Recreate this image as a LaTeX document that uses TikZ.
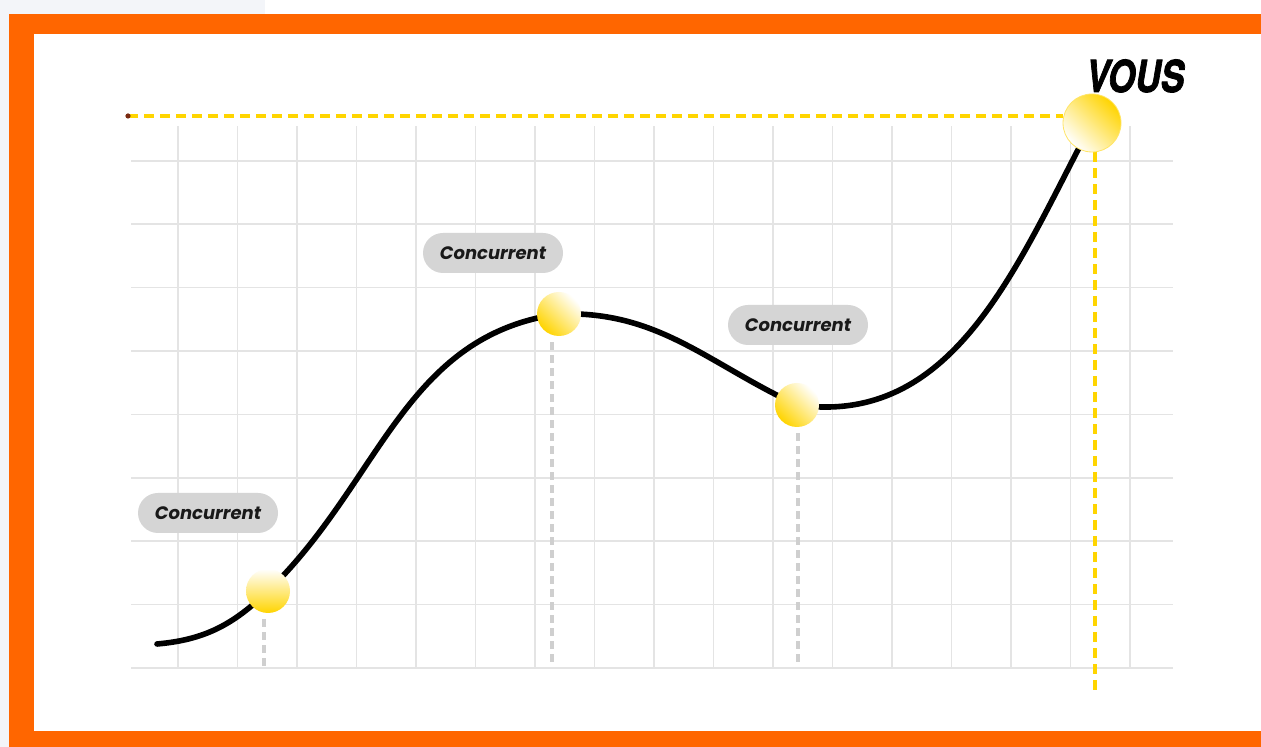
\documentclass[tikz,border=0pt]{standalone}
\usepackage{fontspec}
\newfontfamily\labelfont{Poppins}
\newfontfamily\vousfont{TeX Gyre Heros}[FakeBold=2]
\usetikzlibrary{positioning}
\usetikzlibrary{shapes}
\usetikzlibrary{calc}
\usetikzlibrary{backgrounds}
\definecolor{frameorange}{HTML}{FF6600}
\definecolor{pagegray}{HTML}{F3F5F9}
\definecolor{gridgray}{HTML}{E4E4E4}
\definecolor{dropgray}{HTML}{CFCFCF}
\definecolor{blobgray}{HTML}{D5D5D5}
\definecolor{sunyellow}{HTML}{FFD400}
\definecolor{dashyellow}{HTML}{FFD500}
\definecolor{pindark}{HTML}{7A2A10}
\tikzset{%
    gridline/.style={draw=gridgray, line width=0.75pt},
    drop/.style={draw=dropgray, line width=1.8pt, dash pattern=on 4pt off 2.5pt, shorten <=3pt},
    guide/.style={draw=dashyellow, line width=1.6pt, dash pattern=on 5pt off 3pt},
    curve/.style={draw=black, line width=2.8pt, line cap=round},
    dot/.style={circle, minimum size=22pt, inner sep=0pt},
    tag/.style={rectangle, rounded corners=10pt, fill=blobgray, minimum width=70pt,
        minimum height=20pt, inner sep=0pt, text=black!90,
        font=\labelfont\bfseries\itshape\fontsize{9}{10}\selectfont},
}

\begin{document}
\begin{tikzpicture}[x=0.5pt, y=0.5pt]
\useasboundingbox (0,0) rectangle (1261,747);
\begin{pgfonlayer}{background}
\fill[pagegray] (0,0) rectangle (1261,747);
\fill[white] (265,733) rectangle (1261,747);
\fill[frameorange] (9,0) rectangle (1261,733);
\fill[white] (34,16) rectangle (1261,713);
% grid
\foreach \k in {0,...,8}
  \draw[gridline] (131,79+63.4*\k) -- (1173,79+63.4*\k);
\foreach \k in {0,...,16}
  \draw[gridline] (178+59.5*\k,79) -- (178+59.5*\k,621);
\end{pgfonlayer}

\coordinate (s) at (157,103);
\coordinate (h0) at (128,631);
\coordinate (vb) at (1095,57);
\coordinate (b1) at (264,79);
\coordinate (b2) at (552,82);
\coordinate (b3) at (798,82);

\node[dot, top color=white, bottom color=sunyellow] (c1) at (268,156) {};
\node[dot, top color=white, bottom color=sunyellow, shading angle=-45] (c2) at (559,433) {};
\node[dot, top color=white, bottom color=sunyellow, shading angle=-45] (c3) at (797,342) {};
\node[dot, minimum size=29pt, top color=sunyellow, bottom color=white, shading angle=-45,
    draw=sunyellow!60, line width=0.4pt] (v) at (1092,624) {};

\node[tag] (t1) at (208,234) {Concurrent};
\node[tag] (t2) at (493,494) {Concurrent};
\node[tag] (t3) at (798,422) {Concurrent};
\node[anchor=base, inner sep=0pt, font=\vousfont\bfseries\itshape\fontsize{22}{24}\selectfont]
    (vous) at (1135,655) {\scalebox{0.8}[1]{VOUS}};

\begin{pgfonlayer}{background}
\draw[drop] (c1.south -| b1) -- (b1);
\draw[drop] (c2.south -| b2) -- (b2);
\draw[drop] (c3.south -| b3) -- (b3);
\draw[guide] (h0) -- (h0 -| v.west);
\draw[guide] (v.south -| vb) -- (vb);
\fill[pindark] (h0) circle (1.3pt);
\draw[curve] (s) to[out=5,in=224] (c1.center) to[out=44,in=188] (c2.center)
    to[out=2,in=155] (c3.center) to[out=-8,in=242] (v.center);
\end{pgfonlayer}
\end{tikzpicture}
\end{document}
